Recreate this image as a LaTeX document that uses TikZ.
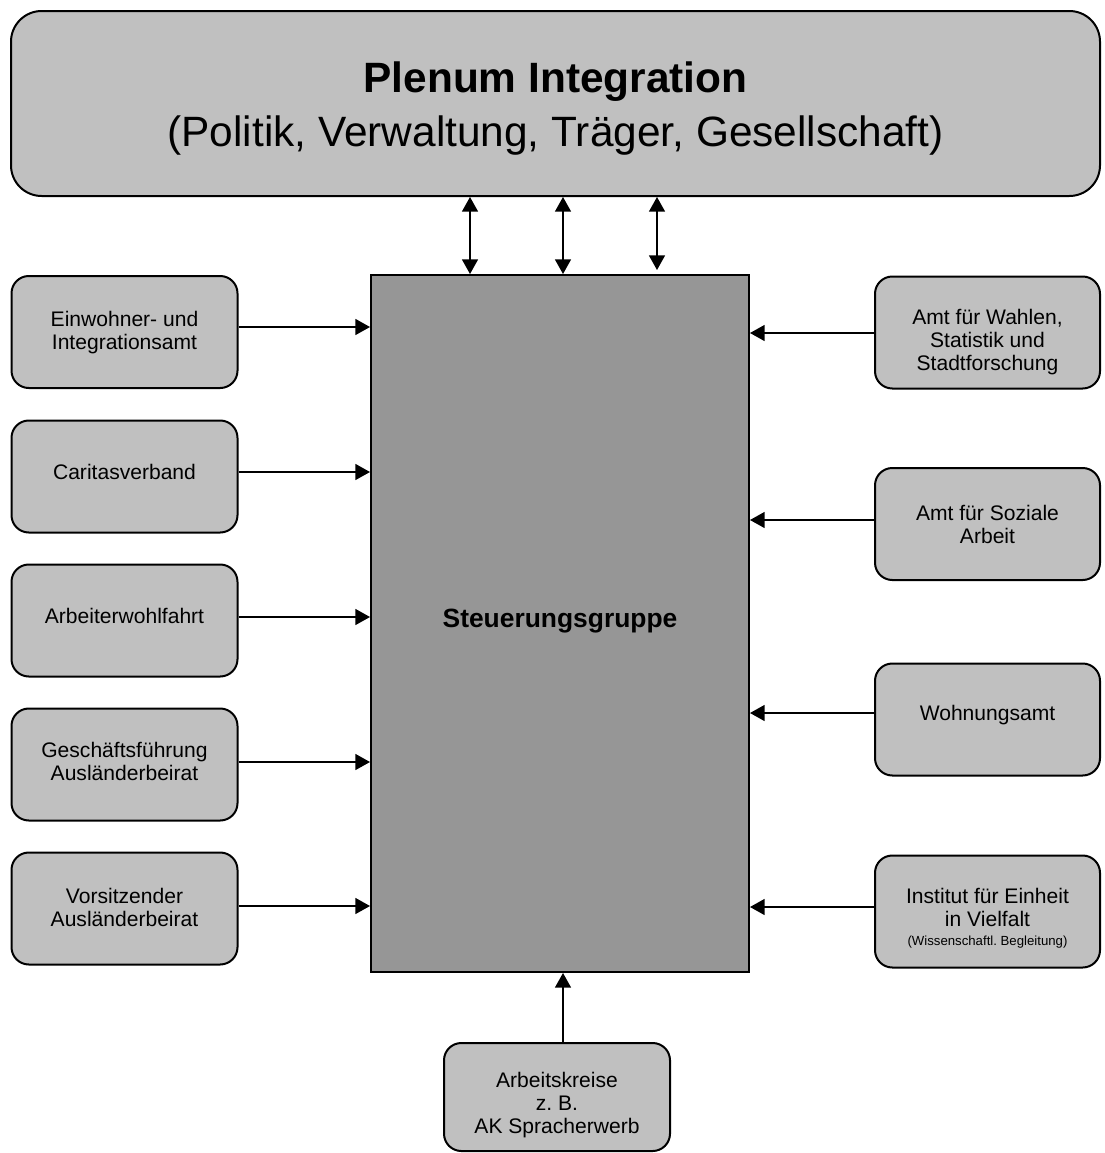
\documentclass[tikz,border=0pt]{standalone}
\usepackage{fontspec}
\setmainfont{Liberation Sans}
\usetikzlibrary{arrows.meta}
\frenchspacing
\definecolor{boxgray}{RGB}{192,192,192}
\definecolor{darkgray2}{RGB}{150,150,150}
\tikzset{
  sidebox/.style={draw=black, line width=1.5pt, fill=boxgray, rounded corners=13pt,
    inner sep=0pt, minimum width=169.5pt, minimum height=84pt},
  sidetext/.style={align=center, inner sep=0pt, font=\fontsize{15.8}{17.2}\selectfont},
  conn/.style={line width=1.1pt, -{Triangle[length=11pt,width=12pt]}},
  dconn/.style={line width=1.1pt, {Triangle[length=11pt,width=12pt]}-{Triangle[length=11pt,width=12pt]}},
}
\begin{document}
\begin{tikzpicture}[x=0.75pt,y=-0.75pt]
\useasboundingbox (0,0) rectangle (1105,1153);
% top box
\node[draw=black, line width=1.5pt, fill=boxgray, rounded corners=23pt, inner sep=0pt,
  minimum width=816.75pt, minimum height=138.75pt] (top) at (555.5,103.5) {};
\node[align=center, inner sep=0pt, font=\fontsize{31.8}{41}\selectfont] (toptext)
  at ([yshift=-3.75pt]top.center)
  {\textbf{Plenum Integration}\\(Politik, Verwaltung, Träger, Gesellschaft)};
% central box
\node[draw=black, line width=1.5pt, fill=darkgray2, inner sep=0pt,
  minimum width=283.5pt, minimum height=522.75pt] (steer) at (560,623.5) {};
\node[inner sep=0pt, font=\fontsize{19.8}{22}\selectfont\bfseries] (steertext)
  at ([yshift=2pt]steer.center) {Steuerungsgruppe};
% left boxes
\node[sidebox] (l1) at (124.5,332) {};
\node[sidebox] (l2) at (124.5,476.5) {};
\node[sidebox] (l3) at (124.5,620.5) {};
\node[sidebox] (l4) at (124.5,764.5) {};
\node[sidebox] (l5) at (124.5,908.5) {};
\node[sidetext] (l1t) at ([yshift=-0.5pt]l1.center) {Einwohner- und\\Integrationsamt};
\node[sidetext] (l2t) at ([yshift=3.4pt]l2.center) {Caritasverband};
\node[sidetext] (l3t) at ([yshift=3.4pt]l3.center) {Arbeiterwohlfahrt};
\node[sidetext] (l4t) at ([yshift=2pt]l4.center) {Geschäftsführung\\Ausländerbeirat};
\node[sidetext] (l5t) at ([yshift=0.5pt]l5.center) {Vorsitzender\\Ausländerbeirat};
% right boxes
\node[sidebox, minimum width=168.75pt] (r1) at (987.5,332.5) {};
\node[sidebox, minimum width=168.75pt] (r2) at (987.5,524) {};
\node[sidebox, minimum width=168.75pt] (r3) at (987.5,719.5) {};
\node[sidebox, minimum width=168.75pt] (r4) at (987.5,911.5) {};
\node[sidetext] (r1t) at ([yshift=-7pt]r1.center) {Amt für Wahlen,\\Statistik und\\Stadtforschung};
\node[sidetext] (r2t) at ([yshift=0pt]r2.center) {Amt für Soziale\\Arbeit};
\node[sidetext] (r3t) at ([yshift=3.4pt]r3.center) {Wohnungsamt};
\node[sidetext] (r4t) at ([yshift=-5pt]r4.center) {Institut für Einheit\\in Vielfalt\\[-3pt]{\fontsize{9.9}{11}\selectfont (Wissenschaftl. Begleitung)}};
% bottom box
\node[sidebox, minimum width=169.5pt, minimum height=81pt] (ak) at (557,1097) {};
\node[sidetext] (akt) at ([yshift=-6pt]ak.center) {Arbeitskreise\\z. B.\\AK Spracherwerb};
% vertical double arrows
\draw[dconn] (steer.north -| 470,0) -- (top.south -| 470,0);
\draw[dconn] (steer.north -| 563,0) -- (top.south -| 563,0);
\draw[dconn, shorten <=3pt] (steer.north -| 657,0) -- (top.south -| 657,0);
% left arrows
\draw[conn] (l1.east |- 0,327) -- (steer.west |- 0,327);
\draw[conn] (l2.east |- 0,472) -- (steer.west |- 0,472);
\draw[conn] (l3.east |- 0,617) -- (steer.west |- 0,617);
\draw[conn] (l4.east |- 0,762) -- (steer.west |- 0,762);
\draw[conn] (l5.east |- 0,906) -- (steer.west |- 0,906);
% right arrows
\draw[conn] (r1.west |- 0,333) -- (steer.east |- 0,333);
\draw[conn] (r2.west |- 0,520) -- (steer.east |- 0,520);
\draw[conn] (r3.west |- 0,713) -- (steer.east |- 0,713);
\draw[conn] (r4.west |- 0,907) -- (steer.east |- 0,907);
% bottom arrow
\draw[conn] (ak.north -| 563,0) -- (steer.south -| 563,0);
\end{tikzpicture}
\end{document}
